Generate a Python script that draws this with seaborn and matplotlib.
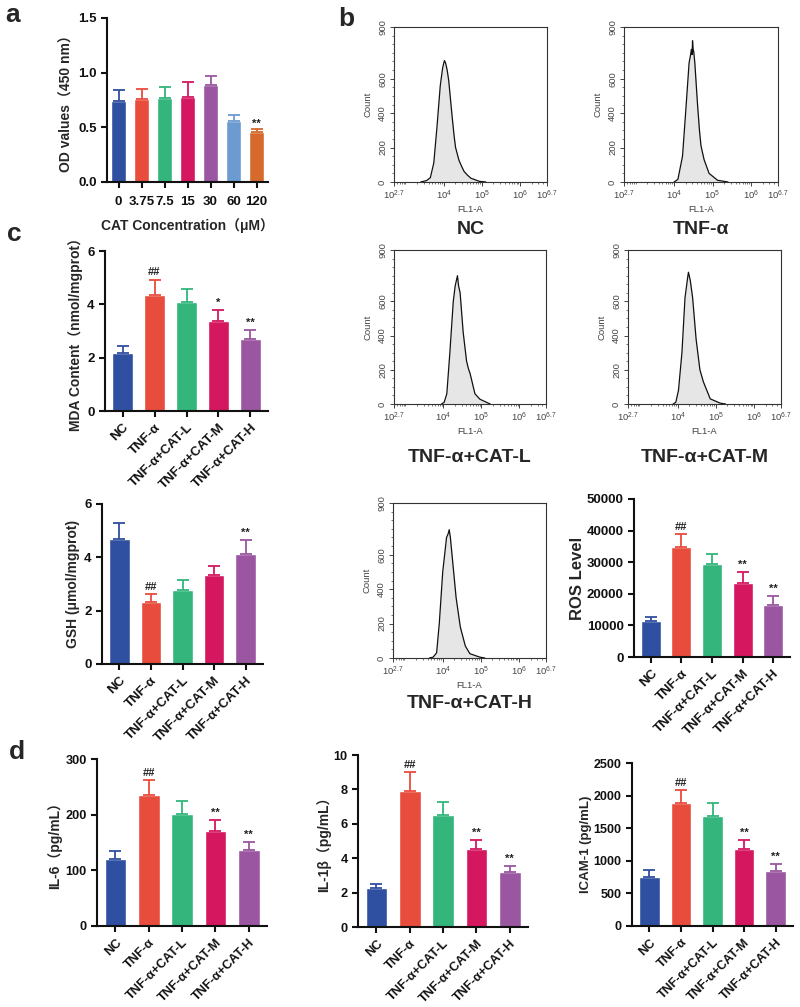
import numpy as np
import pandas as pd
import matplotlib
matplotlib.use("Agg")
import matplotlib.pyplot as plt
import seaborn as sns
from matplotlib.ticker import FixedLocator, NullFormatter

sns.set_style("ticks")
plt.rcParams['font.family'] = ['Liberation Sans', 'Noto Sans CJK SC', 'DejaVu Sans']
plt.rcParams['mathtext.fontset'] = 'custom'
plt.rcParams['mathtext.rm'] = 'Liberation Sans'
plt.rcParams['mathtext.it'] = 'Liberation Sans:italic'

# ---------------- data ----------------
# panel a
a_cats = ['0', '3.75', '7.5', '15', '30', '60', '120']
a_vals = [0.745, 0.76, 0.77, 0.78, 0.89, 0.56, 0.455]
a_errs = [0.095, 0.09, 0.095, 0.135, 0.08, 0.055, 0.03]
a_marks = ['', '', '', '', '', '', '**']

groups = ['NC', 'TNF-α', 'TNF-α+CAT-L', 'TNF-α+CAT-M', 'TNF-α+CAT-H']
# panel c
mda_vals = [2.17, 4.36, 4.07, 3.38, 2.70]
mda_errs = [0.27, 0.57, 0.50, 0.40, 0.35]
mda_marks = ['', '##', '', '*', '**']
gsh_vals = [4.70, 2.34, 2.76, 3.32, 4.11]
gsh_errs = [0.59, 0.29, 0.39, 0.36, 0.55]
gsh_marks = ['', '##', '', '', '**']
ros_vals = [11300, 34700, 29300, 23300, 16600]
ros_errs = [1400, 4200, 3400, 3700, 2700]
ros_marks = ['', '##', '', '**', '**']
# panel d
il6_vals = [121, 235, 202, 170, 136]
il6_errs = [14, 27, 22, 21, 15]
il1b_vals = [2.25, 7.92, 6.54, 4.52, 3.17]
il1b_errs = [0.27, 1.07, 0.70, 0.53, 0.38]
icam_vals = [755, 1879, 1689, 1186, 842]
icam_errs = [97, 210, 190, 138, 103]
d_marks = ['', '##', '', '**', '**']

# panel b flow cytometry histograms: (log10 FL1-A, count) points
hist_titles = ['NC', 'TNF-α', 'TNF-α+CAT-L', 'TNF-α+CAT-M', 'TNF-α+CAT-H']
nc_logx = [3.40, 3.55, 3.65, 3.74, 3.82, 3.91, 3.97, 4.00, 4.02, 4.05, 4.09, 4.13, 4.22, 4.27, 4.31, 4.40, 4.47, 4.53, 4.62, 4.71, 4.93, 5.10]
nc_cnt = [0, 8, 25, 110, 310, 560, 660, 690, 705, 690, 650, 590, 380, 270, 200, 125, 90, 62, 40, 22, 4, 0]
tnf_logx = [4.00, 4.10, 4.22, 4.30, 4.39, 4.43, 4.45, 4.47, 4.48, 4.50, 4.51, 4.54, 4.61, 4.66, 4.70, 4.78, 4.91, 5.13, 5.40]
tnf_cnt = [0, 15, 150, 400, 690, 740, 770, 740, 820, 760, 760, 690, 450, 300, 210, 130, 50, 10, 0]
l_logx = [3.95, 4.02, 4.09, 4.17, 4.26, 4.31, 4.34, 4.37, 4.40, 4.44, 4.52, 4.61, 4.66, 4.70, 4.83, 4.96, 5.23]
l_cnt = [0, 10, 60, 300, 600, 690, 720, 750, 690, 650, 420, 250, 205, 180, 60, 28, 0]
m_logx = [3.88, 3.95, 4.02, 4.11, 4.19, 4.26, 4.28, 4.30, 4.33, 4.39, 4.48, 4.58, 4.67, 4.85, 5.11, 5.25]
m_cnt = [0, 10, 80, 300, 620, 740, 770, 750, 720, 620, 380, 200, 130, 30, 5, 0]
h_logx = [3.65, 3.75, 3.84, 3.91, 4.00, 4.10, 4.14, 4.17, 4.20, 4.26, 4.35, 4.46, 4.59, 4.71, 4.97, 5.10]
h_cnt = [0, 5, 30, 200, 500, 700, 720, 745, 700, 560, 350, 180, 70, 25, 5, 0]

# ---------------- styles ----------------
c_blue, c_red, c_green, c_crim, c_purp = '#2F4FA0', '#E84C3D', '#33B57C', '#D4175F', '#9A56A0'
a_colors = [c_blue, c_red, c_green, c_crim, c_purp, '#6C9BD2', '#D6692C']
g_colors = [c_blue, c_red, c_green, c_crim, c_purp]

W, H = 800, 1007
fig = plt.figure(figsize=(W / 100, H / 100), dpi=100)


def add_ax(l, t, r, b):
    return fig.add_axes([l / W, 1 - b / H, (r - l) / W, (b - t) / H])


def bar_panel(ax, cats, vals, errs, colors, ylim, yticks, ylabel, marks,
              rot=45, ylabel_size=10, mark_off=None, ticksize=9.5, labelpad=3):
    df = pd.DataFrame({'g': cats, 'v': vals})
    pal = dict(zip(cats, colors))
    sns.barplot(data=df, x='g', y='v', hue='g', palette=pal, legend=False,
                errorbar=None, width=0.65, saturation=1, ax=ax, order=cats,
                hue_order=cats)
    for i, (v, e, c) in enumerate(zip(vals, errs, colors)):
        ax.errorbar(i, v, yerr=[[0], [e]], fmt='none', ecolor=c, elinewidth=1.3,
                    capsize=4.5, capthick=1.3, zorder=1)
        if marks[i]:
            off = mark_off if mark_off is not None else (ylim[1] - ylim[0]) * 0.015
            ax.text(i, v + e + off, marks[i], ha='center', va='bottom',
                    fontsize=8, fontweight='bold', color='#222222')
    ax.set_xlim(-0.55, len(cats) - 0.45)
    ax.set_ylim(*ylim)
    ax.set_yticks(yticks)
    ax.set_xlabel('')
    ax.set_ylabel(ylabel, fontsize=ylabel_size, fontweight='bold', labelpad=labelpad)
    for s in ['top', 'right']:
        ax.spines[s].set_visible(False)
    for s in ['left', 'bottom']:
        ax.spines[s].set_linewidth(1.5)
        ax.spines[s].set_color('#111111')
    ax.tick_params(axis='both', direction='out', length=4, width=1.5,
                   labelsize=ticksize, colors='#111111')
    for lab in ax.get_yticklabels():
        lab.set_fontweight('bold')
    if rot:
        ax.set_xticks(range(len(cats)))
        ax.set_xticklabels(cats, rotation=rot, ha='right', rotation_mode='anchor',
                           fontweight='bold', fontsize=ticksize)
    else:
        for lab in ax.get_xticklabels():
            lab.set_fontweight('bold')


def hist_panel(ax, logx, cnt):
    x = 10 ** np.array(logx)
    ax.fill_between(x, 0, cnt, color='#E6E6E6', lw=0)
    sns.lineplot(x=x, y=cnt, ax=ax, color='#111111', lw=0.9, sort=False)
    ax.set_xscale('log')
    ax.set_xlim(10 ** 2.7, 10 ** 6.7)
    ax.set_ylim(0, 900)
    ax.set_yticks([0, 200, 400, 600, 900])
    ax.set_yticklabels(['0', '200', '400', '600', '900'], rotation=90, va='center')
    ax.set_xticks([10 ** 2.7, 1e4, 1e5, 1e6, 10 ** 6.7])
    ax.set_xticklabels([r'$10^{2.7}$', r'$10^{4}$', r'$10^{5}$', r'$10^{6}$', r'$10^{6.7}$'])
    ax.yaxis.set_minor_locator(FixedLocator(np.arange(0, 901, 50)))
    ax.yaxis.set_minor_formatter(NullFormatter())
    mx = []
    for d in range(2, 7):
        for k in range(1, 10):
            mx.append(k * 10 ** d)
    ax.xaxis.set_minor_locator(FixedLocator([v for v in mx if 10 ** 2.7 <= v <= 10 ** 6.7]))
    ax.xaxis.set_minor_formatter(NullFormatter())
    ax.tick_params(axis='both', which='major', labelsize=6.8, length=3, width=0.7,
                   colors='#444444', pad=2)
    ax.tick_params(axis='both', which='minor', length=1.5, width=0.5, colors='#444444')
    for s in ax.spines.values():
        s.set_linewidth(0.8)
        s.set_color('#333333')
    ax.set_xlabel('FL1-A', fontsize=6.8, color='#444444', labelpad=2)
    ax.set_ylabel('Count', fontsize=6.8, color='#444444', labelpad=4)


# ---------------- panel a ----------------
ax_a = add_ax(107, 18, 268, 182)
bar_panel(ax_a, a_cats, a_vals, a_errs, a_colors, (0, 1.5), [0, 0.5, 1.0, 1.5],
          'OD values（450 nm）', a_marks, rot=0, mark_off=0.005)
ax_a.set_yticklabels(['0.0', '0.5', '1.0', '1.5'], fontweight='bold')
ax_a.set_xlim(-0.5, 6.5)
ax_a.tick_params(axis='x', pad=6)
ax_a.set_xlabel('CAT Concentration（μM）', fontsize=10, fontweight='bold')
ax_a.xaxis.set_label_coords(0.5, -0.22)

# ---------------- panel b ----------------
hist_boxes = [(394, 27, 547, 182), (624, 27, 778, 182), (394, 250, 546, 404),
              (628, 250, 781, 404), (393, 503, 546, 658)]
hist_data = [(nc_logx, nc_cnt), (tnf_logx, tnf_cnt), (l_logx, l_cnt),
             (m_logx, m_cnt), (h_logx, h_cnt)]
title_y = [229, 229, 458, 458, 704]
for box, (lx, cn), t, ty in zip(hist_boxes, hist_data, hist_titles, title_y):
    axh = add_ax(*box)
    hist_panel(axh, lx, cn)
    fig.text((box[0] + box[2]) / 2 / W, 1 - ty / H, t, ha='center', va='center',
             fontsize=14, fontweight='bold')

# ---------------- panel c ----------------
ax_mda = add_ax(105, 251, 268, 411)
bar_panel(ax_mda, groups, mda_vals, mda_errs, g_colors, (0, 6), [0, 2, 4, 6],
          'MDA Content（nmol/mgprot）', mda_marks, mark_off=0.08)
ax_gsh = add_ax(102, 504, 263, 664)
bar_panel(ax_gsh, groups, gsh_vals, gsh_errs, g_colors, (0, 6), [0, 2, 4, 6],
          'GSH (μmol/mgprot)', gsh_marks, mark_off=0.08)
ax_ros = add_ax(634, 499, 790, 657)
bar_panel(ax_ros, groups, ros_vals, ros_errs, g_colors, (0, 50000),
          [0, 10000, 20000, 30000, 40000, 50000], 'ROS Level', ros_marks,
          ylabel_size=12, mark_off=700, labelpad=1)

# ---------------- panel d ----------------
ax_il6 = add_ax(97, 759, 267, 926)
bar_panel(ax_il6, groups, il6_vals, il6_errs, g_colors, (0, 300), [0, 100, 200, 300],
          'IL-6（pg/mL）', d_marks, mark_off=4, ticksize=9.2, labelpad=2)
ax_il1 = add_ax(358, 755, 528, 927)
bar_panel(ax_il1, groups, il1b_vals, il1b_errs, g_colors, (0, 10), [0, 2, 4, 6, 8, 10],
          'IL-1β（pg/mL）', d_marks, mark_off=0.15, ticksize=9.2, labelpad=2)
ax_icam = add_ax(632, 763, 793, 926)
bar_panel(ax_icam, groups, icam_vals, icam_errs, g_colors, (0, 2500),
          [0, 500, 1000, 1500, 2000, 2500], 'ICAM-1 (pg/mL)', d_marks, mark_off=35,
          ticksize=9.0, ylabel_size=9.5, labelpad=1)

# panel letters
for txt, x, y in [('a', 5, 3), ('b', 338, 7), ('c', 7, 222), ('d', 9, 740)]:
    fig.text(x / W, 1 - y / H, txt, ha='left', va='top', fontsize=19, fontweight='bold')

fig.savefig('out.png', dpi=100)
